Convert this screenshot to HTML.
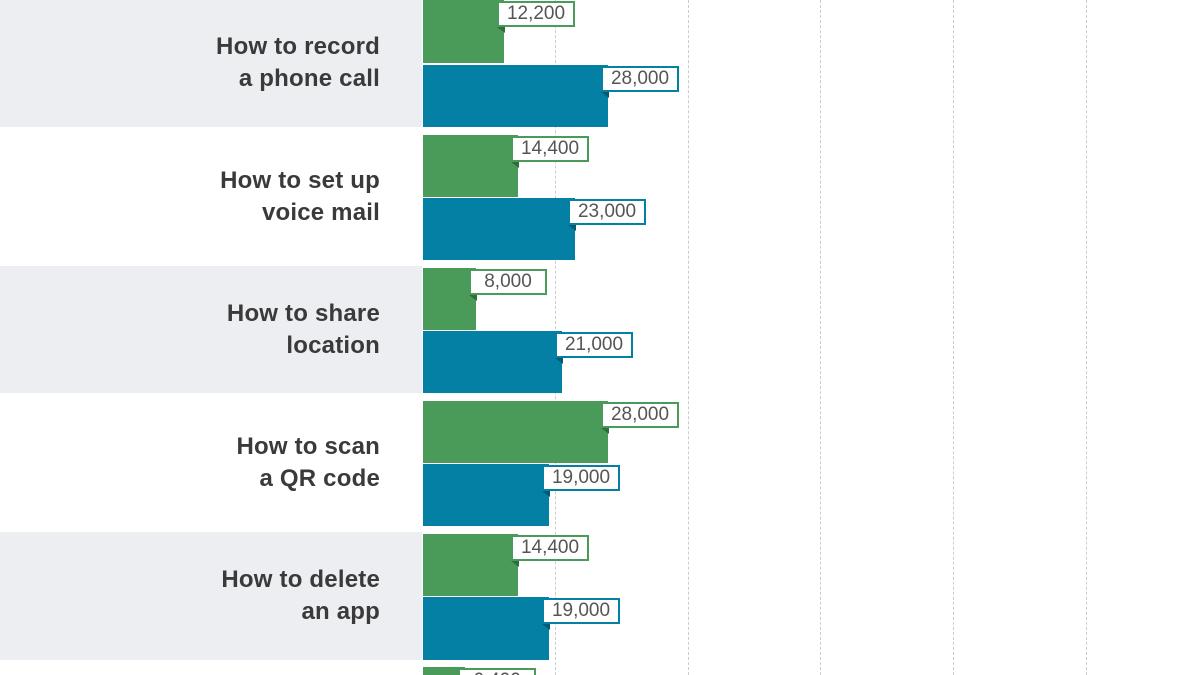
<!DOCTYPE html><html><head><style>
html,body{margin:0;width:1200px;height:675px;overflow:hidden;background:#fff;font-family:"Liberation Sans",sans-serif;position:relative}
.bg{position:absolute;left:0;width:422px;background:#eceef1}
.lab{position:absolute;right:820px;text-align:right;font-size:24px;line-height:32px;color:#3a3a3a;font-weight:bold;letter-spacing:0.2px}
.bar{position:absolute;left:423px}
.g{background:#4a9a5a}.b{background:#0480a4}
.box{position:absolute;height:22px;background:#fff;font-size:19px;line-height:22px;text-align:center;color:#555;box-sizing:content-box}
.tri{position:absolute;width:0;height:0;border-left:8px solid transparent}
.grid{position:absolute;top:0;height:675px;border-left:1px dashed #ccc}
</style></head><body>
<div class="bg" style="top:0;height:127px"></div>
<div class="bg" style="top:266px;height:127px"></div>
<div class="bg" style="top:532px;height:128px"></div>
<div class="grid" style="left:555px"></div><div class="grid" style="left:688px"></div><div class="grid" style="left:820px"></div><div class="grid" style="left:953px"></div><div class="grid" style="left:1086px"></div>
<div class="lab" style="top:31px">How to record<br>a phone call</div>
<div class="lab" style="top:165px">How to set up<br>voice mail</div>
<div class="lab" style="top:298px">How to share<br>location</div>
<div class="lab" style="top:431px">How to scan<br>a QR code</div>
<div class="lab" style="top:564px">How to delete<br>an app</div>
<script>
const s=185/28000;
const bars=[[0,63,12200,'g'],[65,62,28000,'b'],[135,62,14400,'g'],[198,62,23000,'b'],[268,62,8000,'g'],[331,62,21000,'b'],[401,62,28000,'g'],[464,62,19000,'b'],[534,62,14400,'g'],[597,63,19000,'b'],[667,20,6400,'g']];
let h='';
for(const [y,ht,v,c] of bars){
 const w=Math.round(v*s);const col=c=='g'?'#4a9a5a':'#0480a4';
 h+=`<div class="bar ${c}" style="top:${y}px;height:${ht}px;width:${w}px"></div>`;
 const bx=423+w-7, by=y+1;
 h+=`<div class="box" style="left:${bx}px;top:${by}px;width:74px;border:2px solid ${col}">${v.toLocaleString('en-US')}</div>`;
 h+=`<div class="tri" style="left:${bx}px;top:${by+26}px;border-top:6px solid ${c=='g'?'#2e6e3c':'#035a73'}"></div>`;
}
document.body.insertAdjacentHTML('beforeend',h);
</script>
</body></html>
